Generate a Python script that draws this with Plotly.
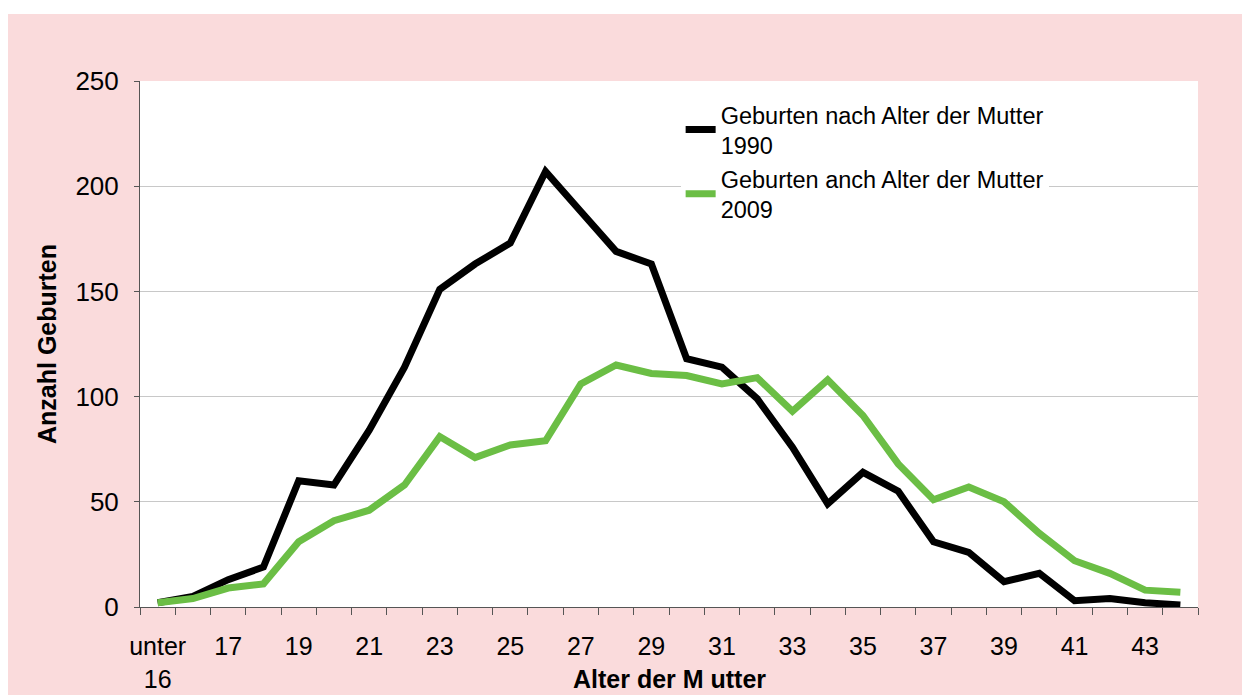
import plotly.graph_objects as go

categories = ["unter 16"] + [str(a) for a in range(16, 45)]
births_1990 = [2, 5, 13, 19, 60, 58, 84, 114, 151, 163, 173, 207, 188, 169, 163,
               118, 114, 99, 76, 49, 64, 55, 31, 26, 12, 16, 3, 4, 2, 1]
births_2009 = [2, 4, 9, 11, 31, 41, 46, 58, 81, 71, 77, 79, 106, 115, 111,
               110, 106, 109, 93, 108, 91, 68, 51, 57, 50, 35, 22, 16, 8, 7]
tick_text = ["unter<br>16" if i == 0 else (c if i % 2 == 0 else "") for i, c in enumerate(categories)]
y_ticks = [0, 50, 100, 150, 200, 250]

FONT = "Liberation Sans, Arial, sans-serif"
PINK = "#FADBDC"

fig = go.Figure()
fig.add_trace(go.Scatter(x=categories, y=births_1990, mode="lines",
                         name="Geburten nach Alter der Mutter<br>1990",
                         line=dict(color="#000000", width=7)))
fig.add_trace(go.Scatter(x=categories, y=births_2009, mode="lines",
                         name="Geburten anch Alter der Mutter<br>2009",
                         line=dict(color="#6BBE45", width=7)))

fig.update_layout(
    width=1242, height=687,
    margin=dict(l=132, r=52, t=73, b=88, autoexpand=False),
    paper_bgcolor=PINK, plot_bgcolor="#FFFFFF",
    font=dict(family=FONT, size=26, color="#000000"),
    showlegend=True,
    legend=dict(x=0.511, y=0.978, xanchor="left", yanchor="top",
                bgcolor="#FFFFFF", font=dict(size=23.5), borderwidth=0,
                tracegroupgap=2, entrywidth=365, entrywidthmode="pixels"),
    shapes=[dict(type="rect", xref="paper", yref="paper",
                 x0=-0.2, x1=1.1, y0=1.1274, y1=1.3,
                 fillcolor="#FFFFFF", line=dict(width=0), layer="below")],
    annotations=[dict(text="<b>Alter der M utter</b>", xref="paper", yref="paper",
                      x=0.5, y=-0.137, xanchor="center", yanchor="middle",
                      showarrow=False, font=dict(size=25))],
)
fig.update_xaxes(
    type="category", categoryorder="array", categoryarray=categories,
    range=[-0.5, len(categories) - 0.5], automargin=False,
    tickmode="array", tickvals=categories, ticktext=tick_text, tickangle=0,
    tickson="boundaries", ticks="outside", ticklen=7, tickcolor="#555555",
    showline=True, linecolor="#555555", linewidth=1, showgrid=False,
    ticklabelstandoff=17, tickfont=dict(size=25),
)
fig.update_yaxes(
    range=[0, 250], tickvals=y_ticks, ticks="outside", ticklen=5, tickcolor="#555555",
    showline=True, linecolor="#555555", linewidth=1, automargin=False,
    showgrid=True, gridcolor="#C8C8C8", gridwidth=1, zeroline=False,
    tickfont=dict(size=26), ticklabelstandoff=10,
    title=dict(text="<b>Anzahl Geburten</b>", font=dict(size=25), standoff=11),
)

fig.write_html("out.html")
